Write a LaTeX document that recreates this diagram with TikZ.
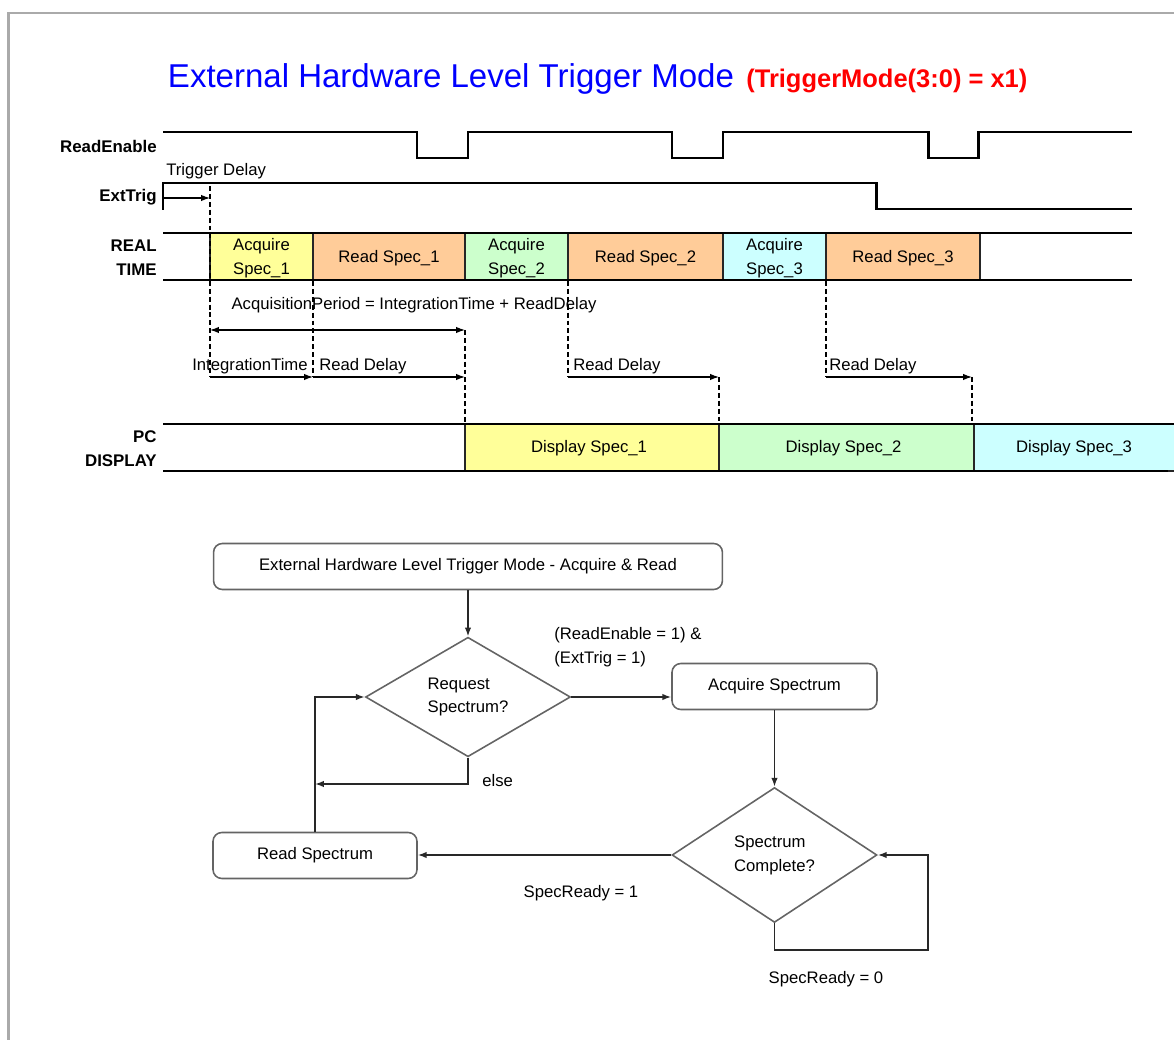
\documentclass[tikz,border=0pt]{standalone}
\usepackage{fontspec}
\setmainfont{Liberation Sans}
\usetikzlibrary{positioning, arrows.meta, shapes.geometric}
\definecolor{framegray}{RGB}{170, 170, 170}
\definecolor{titleblue}{RGB}{0, 0, 255}
\definecolor{titlered}{RGB}{255, 0, 0}
\definecolor{acqyellow}{RGB}{255, 255, 153}
\definecolor{readorange}{RGB}{255, 204, 153}
\definecolor{acqgreen}{RGB}{204, 255, 204}
\definecolor{acqcyan}{RGB}{204, 255, 255}
\definecolor{linegray}{RGB}{40, 40, 40}
\definecolor{boxgray}{RGB}{100, 100, 100}

\begin{document}
\begin{tikzpicture}[
    x=0.02cm, y=-0.02cm,
    sig/.style={line width=1.7pt, black},
    slotline/.style={draw=black!85, line width=0.8pt},
    lbl/.style={font=\bfseries\fontsize{9.6}{13.6}\selectfont, anchor=east, align=right, inner sep=0pt},
    txt/.style={font=\fontsize{9.5}{13.6}\selectfont, inner sep=0pt},
    guide/.style={black, line width=0.6pt, dash pattern=on 2.8pt off 1.7pt},
    tarr/.style={-{Latex[length=5pt, width=3.6pt]}, black, line width=0.7pt},
    fbox/.style={draw=boxgray, line width=0.9pt, rounded corners=5pt, minimum height=0.92cm,
                 font=\fontsize{9.5}{13.6}\selectfont},
    decision/.style={diamond, draw=boxgray, line width=0.9pt, inner sep=0pt, minimum width=4.1cm,
                     align=left, font=\fontsize{9.5}{13.6}\selectfont},
    arr/.style={-{Latex[length=5pt, width=3.6pt]}, linegray, line width=0.8pt}
  ]
  \useasboundingbox (0,0) rectangle (1174,1040);
  % page frame
  \draw[framegray, line width=1.7pt] (8.5,1045) -- (8.5,13) -- (1180,13);

  % title
  \node[anchor=base, inner sep=0pt, text=titleblue, font=\fontsize{18.8}{22}\selectfont] (title) at (451,88)
    {External Hardware Level Trigger Mode};
  \node[anchor=base west, inner sep=0pt, text=titlered, font=\bfseries\fontsize{14.5}{18}\selectfont] (mode) at (746,88)
    {(TriggerMode(3:0) = x1)};

  % signal names
  \node[lbl] (rdlbl) at (157,146) {ReadEnable};
  \node[lbl] (trlbl) at (157,197) {ExtTrig};
  \node[lbl] (rtlbl) at (157,258) {REAL\\TIME};
  \node[lbl] (pclbl) at (157,449) {PC\\DISPLAY};

  % ReadEnable and ExtTrig waveforms
  \draw[sig] (163,132) -- (417,132) -- (417,158) -- (468,158) -- (468,132) -- (672,132) -- (672,158)
    -- (723,158) -- (723,132) -- (928,132) -- (928,158) -- (978,158) -- (978,132) -- (1132,132);
  \draw[sig] (163,210) -- (163,183) -- (876,183) -- (876,209) -- (1132,209);

  % real time slots
  \foreach \xa/\xb/\col/\nm/\txt in {210/313/acqyellow/acqa/{Acquire\\Spec\_1},
      313/465/readorange/rda/{Read Spec\_1}, 465/568/acqgreen/acqb/{Acquire\\Spec\_2},
      568/723/readorange/rdb/{Read Spec\_2}, 723/826/acqcyan/acqc/{Acquire\\Spec\_3},
      826/980/readorange/rdc/{Read Spec\_3}}
  {
    \draw[slotline, fill=\col] (\xa,233) rectangle (\xb,280);
    \node[txt, align=center] (\nm) at ({(\xa+\xb)/2},258) {\txt};
  }
  \draw[sig] (163,233) -- (1132,233);
  \draw[sig] (163,280) -- (1132,280);

  % pc display slots
  \foreach \xa/\xb/\col/\nm/\txt in {465/719/acqyellow/dspa/{Display Spec\_1},
      719/974/acqgreen/dspb/{Display Spec\_2}, 974/1180/acqcyan/dspc/{Display Spec\_3}}
  {
    \draw[slotline, fill=\col] (\xa,424) rectangle (\xb,471);
    \node[txt] (\nm) at ({(\xa+\xb)/2-3},448) {\txt};
  }
  \draw[sig] (163,424) -- (1180,424);
  \draw[sig] (163,471) -- (1168,471);

  % timing marks
  \coordinate (tstart) at (163,198);
  \coordinate (ttrig) at (210,198);
  \coordinate (pa) at (210,330);
  \coordinate (pb) at (465,330);
  \coordinate (ia) at (210,377);
  \coordinate (ib) at (313,377);
  \coordinate (ic) at (465,377);
  \coordinate (ra) at (568,377);
  \coordinate (rb) at (719,377);
  \coordinate (sa) at (826,377);
  \coordinate (sb) at (972,377);

  \draw[guide] (210,186) -- (ia);
  \draw[guide] (313,281) -- (ib);
  \draw[guide] (pb) -- (465,424);
  \draw[guide] (568,281) -- (ra);
  \draw[guide] (rb) -- (719,424);
  \draw[guide] (826,281) -- (sa);
  \draw[guide] (sb) -- (972,424);

  \draw[tarr] (tstart) -- (ttrig);
  \draw[tarr, {Latex[length=5pt, width=3.6pt]}-{Latex[length=5pt, width=3.6pt]}] (pa) -- (pb);
  \draw[tarr] (ia) -- (ib);
  \draw[tarr] (ib) -- (ic);
  \draw[tarr] (ra) -- (rb);
  \draw[tarr] (sa) -- (sb);

  \node[txt, anchor=west] (tdly) at (166,171) {Trigger Delay};
  \node[txt] (acqper) at (414,305) {AcquisitionPeriod = IntegrationTime + ReadDelay};
  \node[txt] (inttime) at (250,366) {IntegrationTime};
  \node[txt, anchor=west] (rdlya) at (319,366) {Read Delay};
  \node[txt, anchor=west] (rdlyb) at (573,366) {Read Delay};
  \node[txt, anchor=west] (rdlyc) at (829,366) {Read Delay};

  % flow chart
  \node[fbox, minimum width=10.18cm] (start) at (468,566.5)
    {External Hardware Level Trigger Mode - Acquire \& Read};
  \node[decision, minimum height=2.34cm] (req) at (468,697) {Request\\Spectrum?};
  \node[fbox, minimum width=4.1cm] (acq) at (774.5,686.5) {Acquire Spectrum};
  \node[decision, minimum height=2.7cm] (comp) at (774.5,855) {Spectrum\\Complete?};
  \node[fbox, minimum width=4.08cm] (readsp) at (315,855.5) {Read Spectrum};
  \coordinate (elseend) at (315,784);
  \coordinate (loopend) at (928,950);

  \draw[arr] (start) -- (req);
  \draw[arr] (req.east) -- (req.east -| acq.west);
  \draw[arr] (acq) -- (comp);
  \draw[arr] (comp.west) -- (comp.west -| readsp.east);
  \draw[arr] (readsp.north) |- (req.west);
  \draw[arr] (req.south) |- (elseend);
  \draw[arr] (comp.south) |- (loopend) |- (comp.east);

  \node[txt, anchor=west, align=left] (cond) at (554,647) {(ReadEnable = 1) \&\\(ExtTrig = 1)};
  \node[txt, anchor=west] (elselbl) at (482,781) {else};
  \node[txt] (rdyone) at (581,893) {SpecReady = 1};
  \node[txt] (rdyzero) at (826,979) {SpecReady = 0};
\end{tikzpicture}
\end{document}
